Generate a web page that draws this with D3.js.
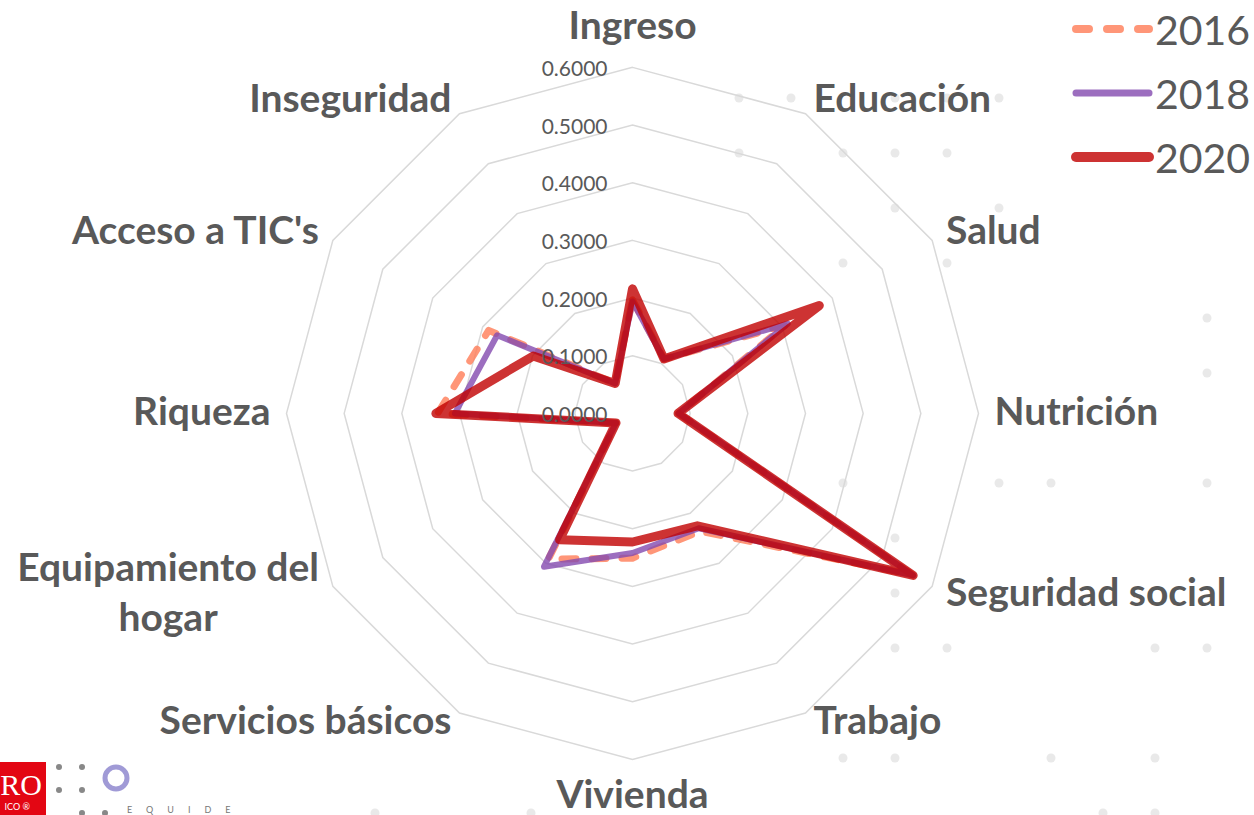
<!DOCTYPE html>
<html>
<head>
<meta charset="utf-8">
<script src="https://cdn.jsdelivr.net/npm/d3@7"></script>
<style>
  html, body { margin: 0; padding: 0; background: #fff; }
  svg { display: block; }
</style>
</head>
<body>
<div id="chart"></div>
<script>
// ---- data ----
var categories = ["Ingreso", "Educación", "Salud", "Nutrición", "Seguridad social", "Trabajo",
                  "Vivienda", "Servicios básicos", "Equipamiento del hogar", "Riqueza",
                  "Acceso a TIC's", "Inseguridad"];
var years = ["2016", "2018", "2020"];
var values2016 = [0.197, 0.109, 0.305, 0.080, 0.560, 0.236, 0.251, 0.292, 0.033, 0.338, 0.288, 0.060];
var values2018 = [0.194, 0.109, 0.311, 0.080, 0.562, 0.230, 0.242, 0.307, 0.033, 0.308, 0.271, 0.060];
var values2020 = [0.216, 0.109, 0.374, 0.079, 0.562, 0.225, 0.223, 0.253, 0.033, 0.341, 0.199, 0.060];
var tickValues = [0, 0.1, 0.2, 0.3, 0.4, 0.5, 0.6];

var series = [
  {name: years[0], values: values2016, color: "#ff7c56", width: 7, dash: "14,16"},
  {name: years[1], values: values2018, color: "#834aaf", width: 6, dash: null},
  {name: years[2], values: values2020, color: "#c00000", width: 9, dash: null}
];

var W = 1254, H = 815;
var cx = 632.5, cy = 413.4;
var textCol = "#595959";

var svg = d3.select("#chart").append("svg")
  .attr("width", W).attr("height", H)
  .attr("viewBox", "0 0 " + W + " " + H);

// faint dotted background of the slide (decoration)
var dotCells = [[14,1],[15,1],[17,1],[18,1],[19,1],[14,2],[16,2],[17,2],[18,2],[17,3],[19,3],
                [16,4],[18,4],[23,5],[23,6],[16,8],[19,8],[20,8],[23,8],[17,9],[17,10],
                [17,11],[18,11],[22,11],[23,11],[16,13],[17,13],[20,13],[22,13],[21,14],[22,14],
                [7,14],[10,14]];
svg.append("g").selectAll("circle")
  .data(dotCells).join("circle")
  .attr("cx", function(d){ return 11 + d[0] * 52; })
  .attr("cy", function(d){ return 43 + d[1] * 55; })
  .attr("r", 4.5)
  .attr("fill", "#e9e9e9");

var r = d3.scaleLinear().domain([0, 0.6]).range([0, 346]);
var angle = d3.scalePoint().domain(d3.range(categories.length))
  .range([0, 2 * Math.PI * (categories.length - 1) / categories.length]);

function pt(i, v) {
  var a = angle(i);
  return [cx + r(v) * Math.sin(a), cy - r(v) * Math.cos(a)];
}

// grid rings
var ringLine = d3.line().curve(d3.curveLinearClosed);
svg.append("g").selectAll("path")
  .data(tickValues.slice(1)).join("path")
  .attr("d", function(t){ return ringLine(categories.map(function(c, i){ return pt(i, t); })); })
  .attr("fill", "none")
  .attr("stroke", "#d9d9d9")
  .attr("stroke-width", 1.5);

// series
var radar = d3.line().curve(d3.curveLinearClosed);
svg.append("g").selectAll("path")
  .data(series).join("path")
  .attr("d", function(s){ return radar(s.values.map(function(v, i){ return pt(i, v); })); })
  .attr("fill", "none")
  .attr("stroke", function(s){ return s.color; })
  .attr("stroke-opacity", 0.8)
  .attr("stroke-width", function(s){ return s.width; })
  .attr("stroke-dasharray", function(s){ return s.dash; })
  .attr("stroke-linejoin", "round")
  .attr("stroke-linecap", "round");

// tick labels
svg.append("g").selectAll("text")
  .data(tickValues).join("text")
  .attr("x", cx - 25)
  .attr("y", function(t){ return cy - r(t); })
  .attr("text-anchor", "end")
  .attr("dominant-baseline", "central")
  .attr("font-family", "Lato, 'Open Sans', sans-serif")
  .attr("font-size", 21)
  .attr("fill", textCol)
  .text(d3.format(".4f"));

// category labels
var labelR = 362;
var lab = svg.append("g")
  .attr("font-family", "Lato, 'Open Sans', sans-serif")
  .attr("font-weight", "bold")
  .attr("font-size", 39)
  .attr("fill", textCol);

categories.forEach(function(c, i) {
  var a = angle(i), s = Math.sin(a), co = Math.cos(a);
  var isV = Math.abs(s) < 0.1;
  var rr = isV ? labelR + 24 : labelR;
  var x = cx + rr * s, y = cy - rr * co - 3;
  if (co < -0.8 && !isV) y -= 5;
  if (co < -0.8 && isV) y -= 3;
  var anchor = isV ? "middle" : (s > 0 ? "start" : "end");
  var lines = c === "Equipamiento del hogar" ? ["Equipamiento del", "hogar"] : [c];
  var t = lab.append("text")
    .attr("text-anchor", lines.length > 1 ? "middle" : anchor)
    .attr("dominant-baseline", "central");
  lines.forEach(function(l, k) {
    t.append("tspan").attr("x", x).attr("y", y + (k - (lines.length - 1) / 2) * 50).text(l);
  });
  if (lines.length > 1) {
    var w = d3.max(t.selectAll("tspan").nodes(), function(n){ return n.getComputedTextLength(); });
    t.selectAll("tspan").attr("x", x - w / 2);
  }
});

// legend
var leg = svg.append("g").selectAll("g")
  .data(series).join("g")
  .attr("transform", function(s, i){ return "translate(0," + (29 + i * 64) + ")"; });
leg.append("line")
  .attr("x1", 1076).attr("x2", 1149)
  .attr("stroke", function(s){ return s.color; })
  .attr("stroke-opacity", 0.8)
  .attr("stroke-width", function(s){ return s.width + 1; })
  .attr("stroke-dasharray", function(s){ return s.dash ? "13,18" : null; })
  .attr("stroke-linecap", "round");
leg.append("text")
  .attr("x", 1155)
  .attr("dominant-baseline", "central")
  .attr("font-family", "Lato, 'Open Sans', sans-serif")
  .attr("font-size", 41)
  .attr("fill", textCol)
  .text(function(s){ return s.name; });

// logo fragment, bottom-left
var logo = svg.append("g");
logo.append("rect").attr("x", 0).attr("y", 762).attr("width", 46).attr("height", 53).attr("fill", "#e30613");
logo.append("text").attr("x", 42).attr("y", 795).attr("text-anchor", "end")
  .attr("font-family", "Liberation Serif, serif").attr("font-size", 30).attr("fill", "#fff").text("RO");
logo.append("text").attr("x", 30).attr("y", 810).attr("text-anchor", "end")
  .attr("font-family", "Lato, sans-serif").attr("font-size", 9).attr("fill", "#fff").text("ICO  ®");
[[59,767],[82,767],[59,790],[82,790],[82,813],[105,813]].forEach(function(p){
  logo.append("circle").attr("cx", p[0]).attr("cy", p[1]).attr("r", 3).attr("fill", "#888");
});
logo.append("circle").attr("cx", 116).attr("cy", 778).attr("r", 11)
  .attr("fill", "none").attr("stroke", "#a09ad6").attr("stroke-width", 5);
logo.append("text").attr("x", 127).attr("y", 813)
  .attr("font-family", "Lato, sans-serif").attr("font-size", 9).attr("letter-spacing", 14)
  .attr("fill", "#777").text("EQUIDE");
</script>
</body>
</html>
